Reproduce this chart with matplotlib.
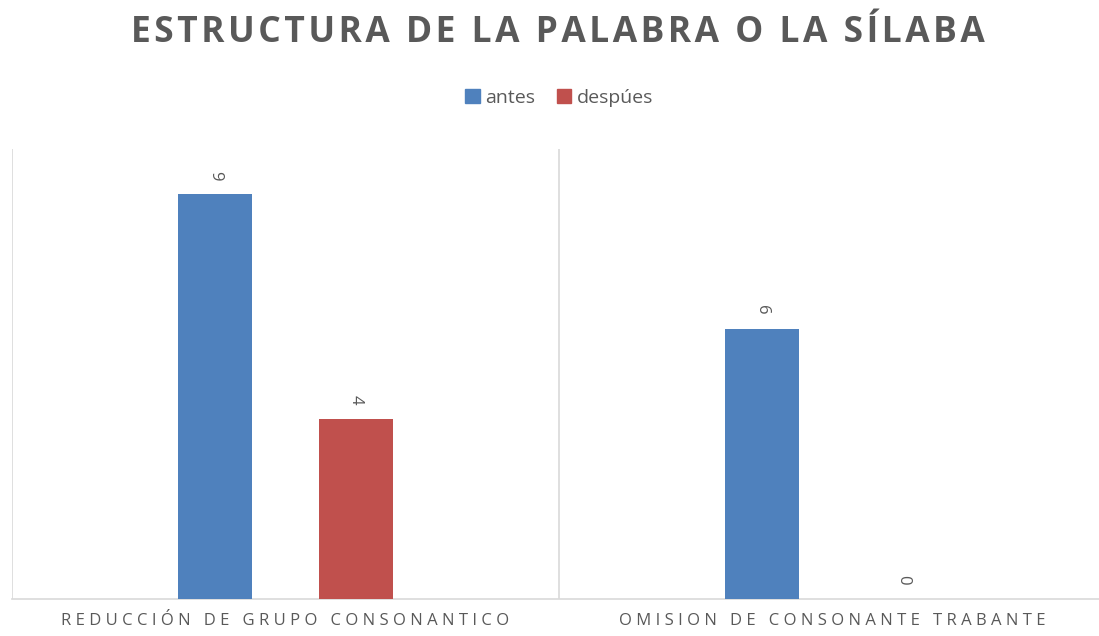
import numpy as np
import matplotlib
matplotlib.use("Agg")
import matplotlib.pyplot as plt
from matplotlib.patches import Patch

# data
categories = ["REDUCCIÓN DE GRUPO CONSONANTICO", "OMISION DE CONSONANTE TRABANTE"]
antes = [9, 6]
despues = [4, 0]
series_names = ["antes", "despúes"]
title = "ESTRUCTURA DE LA PALABRA O LA SÍLABA"

BLUE = "#4F81BD"
RED = "#C0504D"
GRAY = "#595959"
GRID = "#D9D9D9"

plt.rcParams['font.family'] = ['Open Sans', 'DejaVu Sans']


def spaced(s, sep="\u2009"):
    return sep.join(s)


fig = plt.figure(figsize=(10.99, 6.36), dpi=100)
ax = fig.add_axes([12 / 1099, 1 - 599 / 636, 1094 / 1099, (599 - 149) / 636])

x = np.arange(len(categories))
w = 0.135
off = 0.129
b1 = ax.bar(x - off, antes, w, color=BLUE, zorder=3)
b2 = ax.bar(x + off, despues, w, color=RED, zorder=3)

for bars, vals in ((b1, antes), (b2, despues)):
    for r, v in zip(bars, vals):
        ax.annotate(str(v), (r.get_x() + r.get_width() / 2, v),
                    xytext=(0, 10), textcoords="offset points",
                    ha="center", va="bottom", rotation=-90,
                    fontsize=12, color=GRAY)

ax.set_xlim(-0.5, len(categories) - 0.5)
ax.set_ylim(0, 10)
for xv in np.arange(-0.5, len(categories), 1.0):
    ax.axvline(xv, color=GRID, lw=1.2, zorder=1)

for s in ["top", "right", "left"]:
    ax.spines[s].set_visible(False)
ax.spines["bottom"].set_color(GRID)
ax.spines["bottom"].set_linewidth(1.2)
ax.set_yticks([])
ax.set_xticks(x)
ax.set_xticklabels([spaced(c, "\u2009\u200a") for c in categories], fontsize=12, color=GRAY)
ax.tick_params(axis="x", length=0, pad=10)

fig.text(0.508, 1 - 42 / 636, spaced(title, "\u200a"), ha="center", va="baseline",
         fontsize=25.5, fontweight="bold", color=GRAY)

handles = [Patch(color=BLUE), Patch(color=RED)]
fig.legend(handles, series_names, loc="center", bbox_to_anchor=(0.509, 1 - 98 / 636),
           ncol=2, frameon=False, fontsize=14, handlelength=0.75, handleheight=0.75,
           handletextpad=0.3, columnspacing=1.1, labelcolor=GRAY)

fig.savefig("out.png", dpi=100, facecolor="white")
